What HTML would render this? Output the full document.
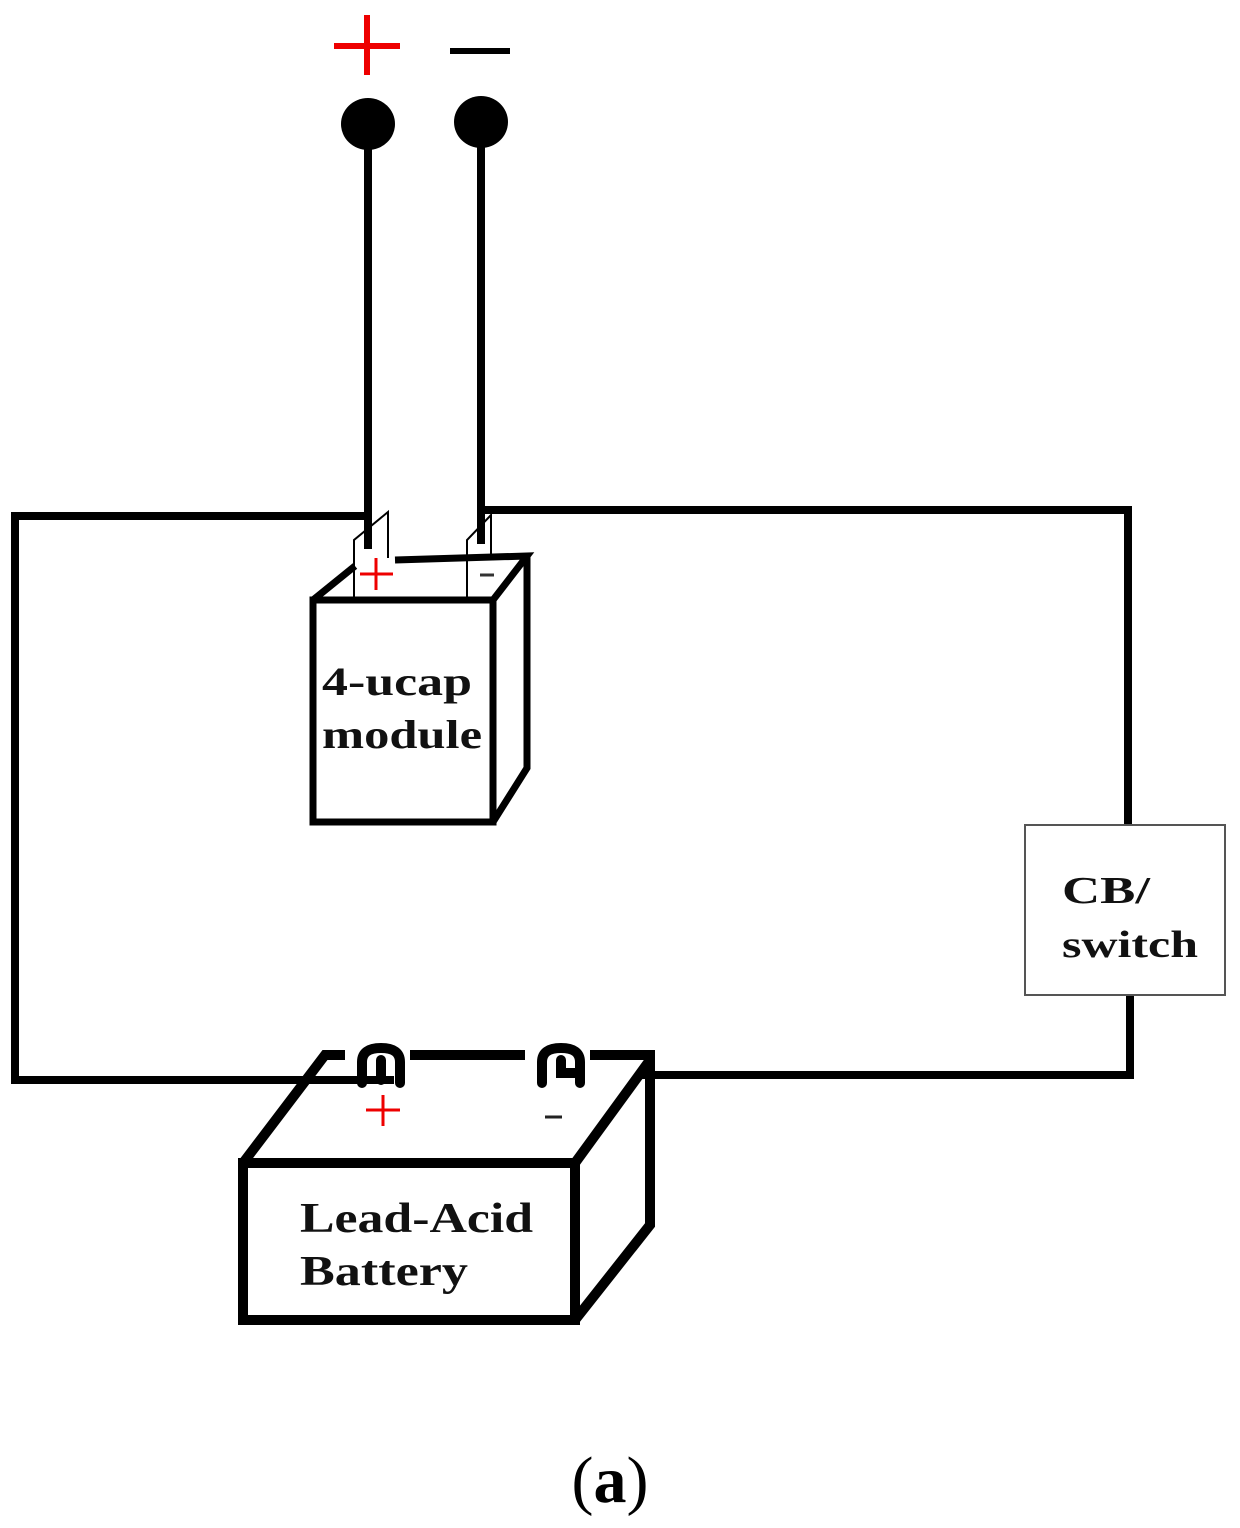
<!DOCTYPE html>
<html><head><style>body{margin:0;background:#fff}svg{display:block}</style></head><body>
<svg width="1240" height="1528" viewBox="0 0 1240 1528" xmlns="http://www.w3.org/2000/svg" font-family="Liberation Serif, serif">
<g stroke="#e00" stroke-width="6" fill="none"><line x1="334" y1="46" x2="400" y2="46"/><line x1="367" y1="15" x2="367" y2="75"/></g>
<line x1="450" y1="51" x2="510" y2="51" stroke="#000" stroke-width="6"/>
<ellipse cx="368" cy="124" rx="27" ry="26" fill="#000"/>
<ellipse cx="481" cy="122" rx="27" ry="26" fill="#000"/>
<g stroke="#000" stroke-width="8" fill="none" stroke-linecap="square">
<line x1="368" y1="124" x2="368" y2="545"/>
<line x1="481" y1="122" x2="481" y2="540"/>
<polyline points="368,516 15,516 15,1080 390,1080"/>
<polyline points="481,510 1128,510 1128,825"/>
<polyline points="1130,995 1130,1075 640,1075"/>
</g>
<rect x="1025" y="825" width="200" height="170" fill="#fff" stroke="#555" stroke-width="2"/>
<g stroke="#000" stroke-width="7" fill="none">
<rect x="313" y="600" width="180" height="222"/>
<polyline points="313,600 355,566"/>
<polyline points="395,560 527,556 493,600"/>
<polyline points="527,556 527,768 493,822"/>
</g>
<g stroke="#000" stroke-width="2" fill="none">
<polyline points="354,598 354,540 388,512 388,558"/>
<polyline points="467,598 467,540 491,515 491,560"/>
</g>
<g stroke="#e00" stroke-width="3"><line x1="360" y1="574" x2="393" y2="574"/><line x1="376" y1="558" x2="376" y2="590"/></g>
<line x1="480" y1="575" x2="494" y2="575" stroke="#333" stroke-width="3"/>
<g font-weight="bold" font-size="40" fill="#111">
<text x="322" y="695" textLength="150" lengthAdjust="spacingAndGlyphs">4-ucap</text><text x="322" y="748" textLength="160" lengthAdjust="spacingAndGlyphs">module</text>
<text x="1062" y="903" font-size="38" textLength="88" lengthAdjust="spacingAndGlyphs">CB/</text><text x="1062" y="957" font-size="38" textLength="136" lengthAdjust="spacingAndGlyphs">switch</text>
<text x="300" y="1232" font-size="42" textLength="233" lengthAdjust="spacingAndGlyphs">Lead-Acid</text><text x="300" y="1285" font-size="42" textLength="168" lengthAdjust="spacingAndGlyphs">Battery</text>
</g>
<g stroke="#000" stroke-width="10" fill="none">
<rect x="243" y="1163" width="332" height="157"/>
<polyline points="243,1163 325,1055 345,1055"/>
<line x1="410" y1="1055" x2="525" y2="1055"/>
<polyline points="590,1055 650,1055 650,1225 575,1320"/>
<line x1="575" y1="1163" x2="650" y2="1060"/>
</g>
<g stroke="#000" stroke-width="10" fill="none" stroke-linecap="round">
<path d="M362,1083 V1062 Q362,1048 381,1048 Q400,1048 400,1062 V1083"/>
<path d="M381,1060 V1080"/>
<path d="M542,1083 V1062 Q542,1048 561,1048 Q580,1048 580,1062 V1083"/>
<path d="M561,1060 V1073 H580"/>
</g>
<g stroke="#e00" stroke-width="3"><line x1="366" y1="1110" x2="400" y2="1110"/><line x1="383" y1="1095" x2="383" y2="1126"/></g>
<line x1="545" y1="1117" x2="562" y2="1117" stroke="#222" stroke-width="3"/>
<text x="610" y="1502" font-size="66" text-anchor="middle" fill="#000">(<tspan font-weight="bold">a</tspan>)</text>
</svg>
</body></html>
